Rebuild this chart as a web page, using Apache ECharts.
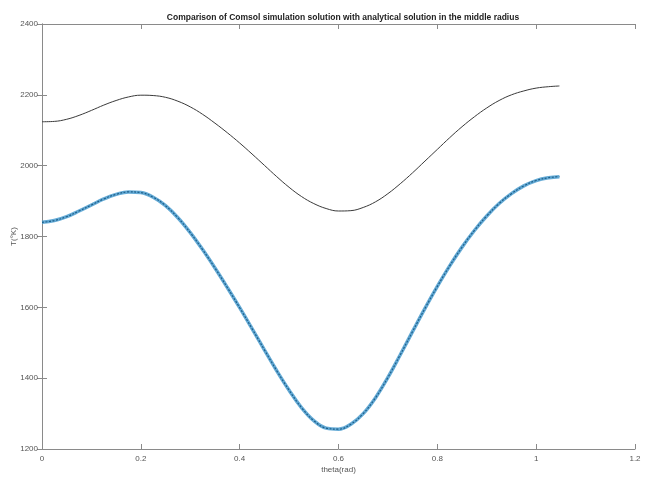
<!DOCTYPE html>
<html>
<head>
<meta charset="utf-8">
<script src="https://cdn.jsdelivr.net/npm/echarts@6/dist/echarts.min.js"></script>
<style>html,body{margin:0;padding:0;background:#fff;}#c{width:650px;height:480px;}</style>
</head>
<body>
<div id="c"></div>
<script>
const titleText = 'Comparison of Comsol simulation solution with analytical solution in the middle radius';
const xName = 'theta(rad)';
const yName = 'T(°K)';
const xTicks = [0, 0.2, 0.4, 0.6, 0.8, 1, 1.2];
const yTicks = [1200, 1400, 1600, 1800, 2000, 2200, 2400];

const theta = [0, 0.025, 0.05, 0.075, 0.1, 0.125, 0.15, 0.175, 0.2, 0.225, 0.25, 0.275, 0.3, 0.325, 0.35, 0.375, 0.4, 0.425, 0.45, 0.475, 0.5, 0.525, 0.55, 0.575, 0.6, 0.625, 0.65, 0.675, 0.7, 0.725, 0.75, 0.775, 0.8, 0.825, 0.85, 0.875, 0.9, 0.925, 0.95, 0.975, 1.0, 1.025, 1.047];

const analytical = [2124, 2125, 2131, 2142, 2156, 2171, 2184, 2194, 2199, 2198, 2193, 2182, 2166, 2145, 2120, 2093, 2064, 2033, 2001, 1969, 1939, 1913, 1893, 1879, 1872, 1873, 1882, 1898, 1921, 1949, 1980, 2013, 2046, 2079, 2110, 2138, 2163, 2184, 2200, 2211, 2219, 2223, 2225];

const comsol = [1840, 1845, 1856, 1872, 1889, 1906, 1919, 1926, 1924, 1911, 1887, 1853, 1811, 1763, 1711, 1656, 1599, 1540, 1480, 1421, 1366, 1317, 1280, 1259, 1256, 1270, 1300, 1345, 1402, 1466, 1532, 1597, 1659, 1717, 1770, 1817, 1858, 1893, 1921, 1943, 1958, 1966, 1969];

const pairs = (ys) => theta.map((t, i) => [t, ys[i]]);

const labelStyle = { color: '#555', fontSize: 8, fontFamily: 'Liberation Sans Narrow, Liberation Sans, sans-serif' };
const lineStyleAxis = { color: '#8a8a8a', width: 1 };

const chart = echarts.init(document.getElementById('c'), null, { renderer: 'canvas' });
chart.setOption({
  animation: false,
  backgroundColor: '#fff',
  title: {
    text: titleText,
    left: 338, top: 8, textAlign: 'center',
    textStyle: { fontSize: 8.5, fontWeight: 'bold', color: '#222', fontFamily: 'Liberation Sans Narrow, Liberation Sans, sans-serif' }
  },
  grid: { left: 42, right: 15, top: 24, bottom: 31, containLabel: false, outerBoundsMode: 'none' },
  xAxis: [{
    type: 'value', min: 0, max: 1.2, interval: 0.2,
    name: xName, nameLocation: 'middle', nameGap: 17, nameMoveOverlap: false,
    nameTextStyle: labelStyle,
    axisLine: { show: true, lineStyle: lineStyleAxis },
    axisTick: { show: true, inside: true, length: 5, lineStyle: lineStyleAxis },
    axisLabel: Object.assign({ margin: 6, formatter: v => String(+(+v).toFixed(1)) }, labelStyle),
    splitLine: { show: false }
  }, {
    type: 'value', min: 0, max: 1.2, interval: 0.2, position: 'top',
    axisLine: { show: true, lineStyle: lineStyleAxis },
    axisTick: { show: true, inside: true, length: 5, lineStyle: lineStyleAxis },
    axisLabel: { show: false }, splitLine: { show: false }
  }],
  yAxis: [{
    type: 'value', min: 1200, max: 2400, interval: 200,
    name: yName, nameLocation: 'middle', nameGap: 24, nameRotate: 90, nameMoveOverlap: false,
    nameTextStyle: labelStyle,
    axisLine: { show: true, lineStyle: lineStyleAxis },
    axisTick: { show: true, inside: true, length: 5, lineStyle: lineStyleAxis },
    axisLabel: Object.assign({ margin: 4, formatter: v => String(Math.round(v)) }, labelStyle),
    splitLine: { show: false }
  }, {
    type: 'value', min: 1200, max: 2400, interval: 200, position: 'right',
    axisLine: { show: true, lineStyle: lineStyleAxis },
    axisTick: { show: true, inside: true, length: 5, lineStyle: lineStyleAxis },
    axisLabel: { show: false }, splitLine: { show: false }
  }],
  series: [{
    name: 'analytical', type: 'line', smooth: 0.4, showSymbol: false,
    data: pairs(analytical),
    lineStyle: { color: '#3a3a3a', width: 1 }
  }, {
    name: 'comsol', type: 'line', smooth: 0.4, showSymbol: false,
    data: pairs(comsol),
    lineStyle: { color: '#4a9ccf', width: 3.5, opacity: 0.85 }
  }, {
    name: 'comsol markers', type: 'line', smooth: 0.4, showSymbol: false,
    data: pairs(comsol),
    lineStyle: { color: '#1d5f8a', width: 1.2, type: [2, 1.5] }
  }]
});
</script>
</body>
</html>
